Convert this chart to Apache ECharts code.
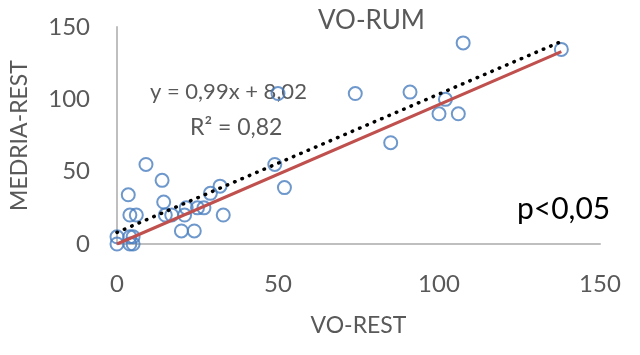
<!DOCTYPE html>
<html>
<head>
<meta charset="utf-8">
<script src="https://cdn.jsdelivr.net/npm/echarts@6/dist/echarts.min.js"></script>
<style>
  html, body { margin: 0; padding: 0; background: #fff; }
  #chart { width: 640px; height: 355px; }
</style>
</head>
<body>
<div id="chart"></div>
<script>
// VO-REST (x) vs MEDRIA-REST (y)
var points = [
  [0, 0], [0, 5], [4, 0], [5, 0], [4, 5], [5, 5],
  [3.5, 34], [4, 20], [6, 20], [9, 55], [14, 44], [14.5, 29],
  [15, 20], [17, 20], [20, 9], [24, 9], [21, 20], [21.5, 25],
  [25, 25], [27, 25], [29, 35], [32, 40], [33, 20],
  [49, 55], [52, 39], [50, 104], [74, 104], [85, 70],
  [91, 105], [100, 90], [102, 100], [106, 90], [107.5, 139], [138, 134.5]
];
var trendLine = [[0, 8], [138, 140]];   // dotted linear trend
var refLine = [[0, 0], [138, 133]];     // red line
var xTicks = [0, 50, 100, 150];
var yTicks = [0, 50, 100, 150];

var font = 'Lato, "Open Sans", sans-serif';
var grey = '#595959';

var chart = echarts.init(document.getElementById('chart'));

var option = {
  animation: false,
  title: {
    text: 'VO-RUM',
    left: 313,
    top: 3,
    textStyle: { fontFamily: font, fontSize: 26, fontWeight: 'normal', color: grey }
  },
  grid: { left: 117, right: 40, top: 27, bottom: 111 },
  xAxis: {
    type: 'value',
    min: xTicks[0],
    max: xTicks[xTicks.length - 1],
    interval: 50,
    name: 'VO-REST',
    nameLocation: 'middle',
    nameGap: 70,
    nameTextStyle: { fontFamily: font, fontSize: 23, color: grey },
    axisLine: { show: true, lineStyle: { color: '#bfbfbf', width: 2 } },
    axisTick: { show: false },
    splitLine: { show: false },
    axisLabel: { fontFamily: font, fontSize: 24, color: grey, margin: 28 }
  },
  yAxis: {
    type: 'value',
    min: yTicks[0],
    max: yTicks[yTicks.length - 1],
    interval: 50,
    name: 'MEDRIA-REST',
    nameLocation: 'middle',
    nameRotate: 90,
    nameGap: 86,
    nameTextStyle: { fontFamily: font, fontSize: 23, color: grey },
    axisLine: { show: true, lineStyle: { color: '#bfbfbf', width: 2 } },
    axisTick: { show: false },
    splitLine: { show: false },
    axisLabel: { fontFamily: font, fontSize: 24, color: grey, margin: 27 }
  },
  graphic: [
    {
      type: 'text', left: 150, top: 81, z: 0,
      style: { text: 'y = 0,99x + 8,02', fontFamily: font, fontSize: 22, fill: grey }
    },
    {
      type: 'text', left: 190, top: 116, z: 0,
      style: { text: 'R² = 0,82', fontFamily: font, fontSize: 23, fill: grey }
    },
    {
      type: 'text', left: 517, top: 194, z: 0,
      style: { text: 'p<0,05', fontFamily: font, fontSize: 30, fill: '#000' }
    }
  ],
  series: [
    {
      type: 'scatter',
      data: points,
      symbol: 'circle',
      symbolSize: 13,
      itemStyle: { color: 'rgba(0,0,0,0)', borderColor: '#4a7ebf', borderWidth: 2 },
      z: 3
    },
    {
      type: 'line',
      data: refLine,
      symbol: 'none',
      lineStyle: { color: '#c0504d', width: 3 },
      z: 4
    },
    {
      type: 'line',
      data: trendLine,
      symbol: 'none',
      lineStyle: { color: '#000', width: 3.5, type: [0.5, 7.5], cap: 'round' },
      z: 5
    }
  ]
};

chart.setOption(option);
</script>
</body>
</html>
